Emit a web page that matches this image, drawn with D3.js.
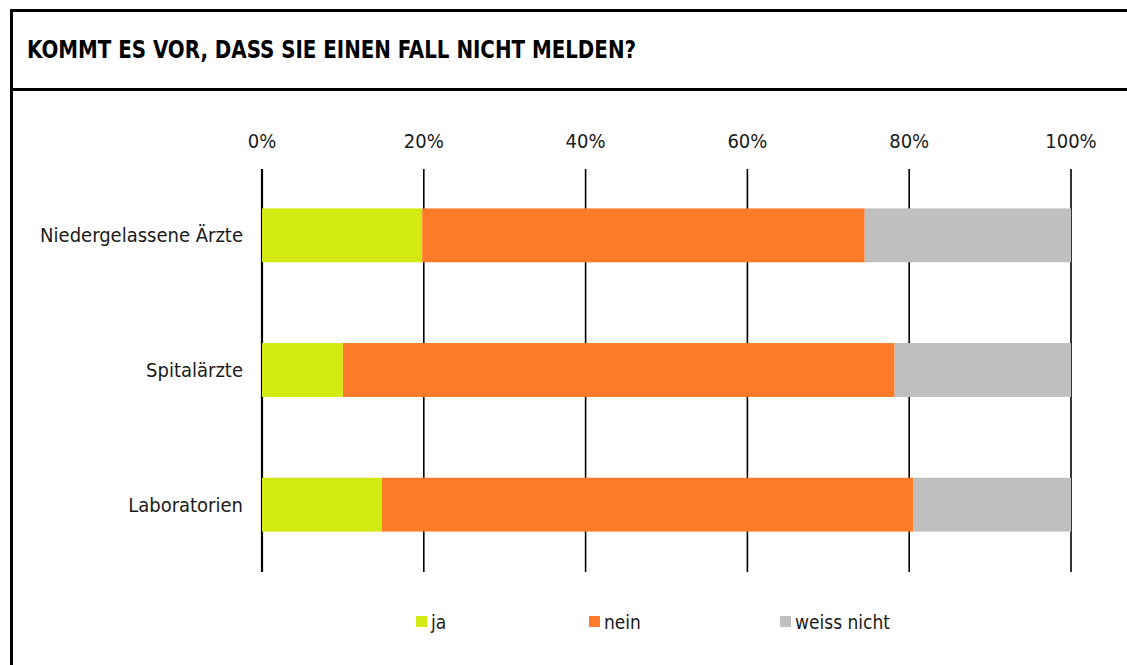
<!DOCTYPE html>
<meta charset="utf-8">
<style>
  body { margin: 0; background: #fff; }
  text { font-family: "DejaVu Sans Condensed", "DejaVu Sans", sans-serif; fill: #1a1a1a; }
  .title { font-weight: bold; font-size: 24px; fill: #000; }
</style>
<svg width="1127" height="665"></svg>
<script src="https://d3js.org/d3.v7.min.js"></script>
<script>
var categories = ["Niedergelassene Ärzte", "Spitalärzte", "Laboratorien"];
var seriesNames = ["ja", "nein", "weiss nicht"];
var ja = [19.8, 10.0, 14.8];
var nein = [54.7, 68.2, 65.7];
var weissNicht = [25.5, 21.8, 19.5];
var tickValues = [0, 20, 40, 60, 80, 100];
var colors = ["#d3e912", "#fd7b28", "#bfbfbf"];

var svg = d3.select("svg");

// frame + title box
svg.append("rect")
    .attr("x", 11.5).attr("y", 10.5)
    .attr("width", 1130).attr("height", 670)
    .attr("fill", "none").attr("stroke", "#000").attr("stroke-width", 3);
svg.append("line")
    .attr("x1", 11.5).attr("x2", 1130)
    .attr("y1", 89.5).attr("y2", 89.5)
    .attr("stroke", "#000").attr("stroke-width", 3);
svg.append("text")
    .attr("class", "title")
    .attr("x", 27).attr("y", 58)
    .attr("textLength", 609)
    .attr("lengthAdjust", "spacingAndGlyphs")
    .text("KOMMT ES VOR, DASS SIE EINEN FALL NICHT MELDEN?");

var rows = categories.map(function(c, i) {
  return { cat: c, ja: ja[i], nein: nein[i], weiss: weissNicht[i] };
});
var stack = d3.stack().keys(["ja", "nein", "weiss"])(rows);

var x = d3.scaleLinear().domain([0, 100]).range([262, 1071]);
var y = d3.scaleBand().domain(categories).range([168, 572]).paddingInner(0.6).paddingOuter(0.3);

// gridlines
svg.append("g").selectAll("line")
  .data(tickValues)
  .enter().append("line")
    .attr("x1", function(d) { return x(d); })
    .attr("x2", function(d) { return x(d); })
    .attr("y1", 169).attr("y2", 572)
    .attr("stroke", "#000")
    .attr("stroke-width", function(d) { return d == 0 ? 2.2 : 1.6; });

svg.append("g").selectAll("text")
  .data(tickValues)
  .enter().append("text")
    .attr("x", function(d) { return x(d); })
    .attr("y", 148)
    .attr("text-anchor", "middle")
    .attr("font-size", 20)
    .text(function(d) { return d + "%"; });

// bars
svg.append("g").selectAll("g")
  .data(stack)
  .enter().append("g")
    .attr("fill", function(d, i) { return colors[i]; })
  .selectAll("rect")
  .data(function(d) { return d; })
  .enter().append("rect")
    .attr("x", function(d) { return x(d[0]); })
    .attr("width", function(d) { return x(d[1]) - x(d[0]); })
    .attr("y", function(d) { return y(d.data.cat); })
    .attr("height", y.bandwidth());

// category labels
svg.append("g").selectAll("text")
  .data(categories)
  .enter().append("text")
    .attr("x", 243)
    .attr("y", function(d) { return y(d) + y.bandwidth() / 2 + 7; })
    .attr("text-anchor", "end")
    .attr("font-size", 20)
    .text(function(d) { return d; });

// legend
var legendX = [416, 589, 780];
var lg = svg.append("g").selectAll("g")
  .data(seriesNames)
  .enter().append("g")
    .attr("transform", function(d, i) { return "translate(" + legendX[i] + ",616)"; });
lg.append("rect")
    .attr("width", 11).attr("height", 11)
    .attr("fill", function(d, i) { return colors[i]; });
lg.append("text")
    .attr("x", 15).attr("y", 13)
    .attr("font-size", 19)
    .text(function(d) { return d; });
</script>
